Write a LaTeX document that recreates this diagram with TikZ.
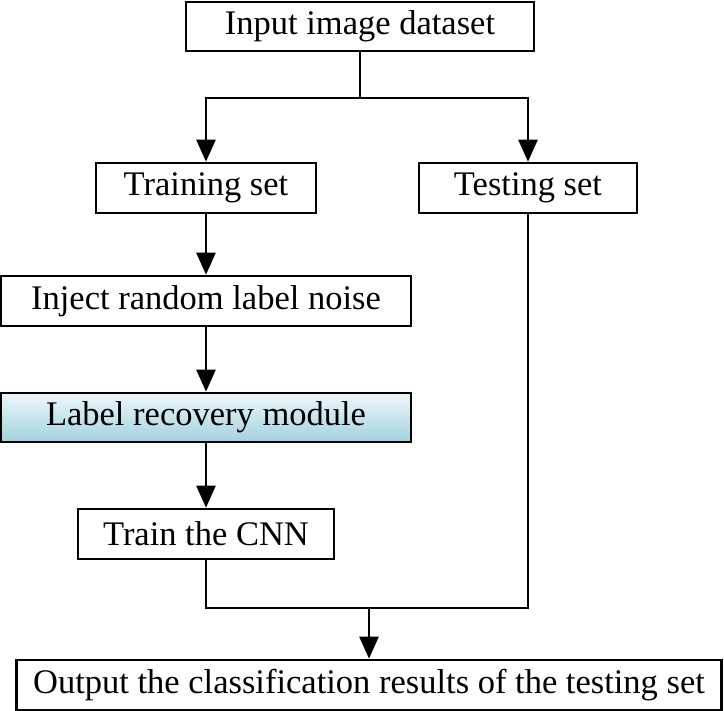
\documentclass[tikz,border=0pt]{standalone}
\usepackage{fontspec}
\setmainfont{Liberation Serif}
\usetikzlibrary{arrows.meta}
\definecolor{gtop}{HTML}{EEF7FA}
\definecolor{gbot}{HTML}{A2D2DF}
\begin{document}
\begin{tikzpicture}[x=1pt,y=-1pt,
  box/.style={draw=black, line width=2.6pt, fill=white, inner sep=0pt, font=\fontsize{34.5}{36}\selectfont},
  conn/.style={line width=2.6pt},
  arr/.style={conn, -{Triangle[length=22pt,width=19pt]}}]
\useasboundingbox (0,0) rectangle (724,711);
\node[box, minimum width=348, minimum height=49] (input) at (360,26.5) {Input image dataset};
\node[box, minimum width=220, minimum height=50] (train) at (206,188) {Training set};
\node[box, minimum width=218, minimum height=50] (test) at (528,188) {Testing set};
\node[box, minimum width=410, minimum height=50] (inject) at (206,301) {Inject random label noise};
\node[box, minimum width=410, minimum height=49, top color=gtop, bottom color=gbot] (lrm) at (206,417.5) {Label recovery module};
\node[box, minimum width=256, minimum height=50] (cnn) at (206,534) {Train the CNN};
\node[box, minimum width=705, minimum height=50] (out) at (369,685) {Output the classification results of the testing set};
\coordinate (j1) at (360,98);
\coordinate (j2) at (369,608);
\draw[conn] (input.south) -- (j1);
\draw[arr] (j1) -| (train.north);
\draw[arr] (j1) -| (test.north);
\draw[arr] (train.south) -- (inject.north);
\draw[arr] (inject.south) -- (lrm.north);
\draw[arr] (lrm.south) -- (cnn.north);
\draw[conn] (cnn.south) |- (j2);
\draw[conn] (test.south) |- (j2);
\draw[arr] (j2) -- (out.north);
\end{tikzpicture}
\end{document}
